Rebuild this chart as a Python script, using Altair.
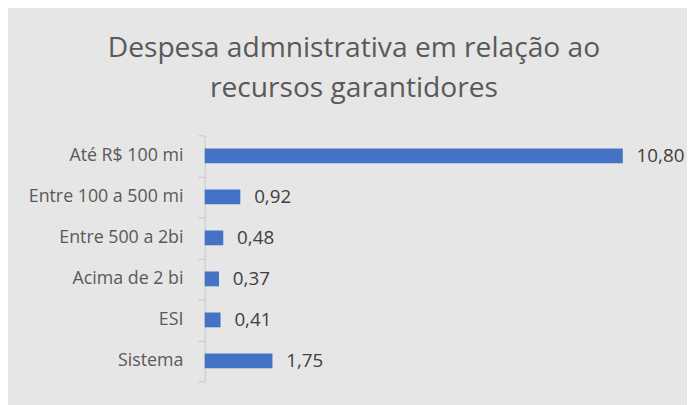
import altair as alt
import pandas as pd

categories = ["Até R$ 100 mi", "Entre 100 a 500 mi", "Entre 500 a 2bi", "Acima de 2 bi", "ESI", "Sistema"]
values = [10.80, 0.92, 0.48, 0.37, 0.41, 1.75]
title_lines = ["Despesa admnistrativa em relação ao", "recursos garantidores"]

df = pd.DataFrame({
    "cat": categories,
    "val": values,
    "lbl": [f"{v:.2f}".replace(".", ",") for v in values],
})

FONT = "Open Sans"
BG = "#e6e6e6"

y = alt.Y("cat:N", sort=categories, title=None,
          scale=alt.Scale(paddingInner=0, paddingOuter=0),
          axis=alt.Axis(labelFont=FONT, labelFontSize=18, labelColor="#595959",
                        domainColor="#c8c8c8", tickColor="#c8c8c8", tickSize=7,
                        tickBand="extent", labelPadding=15, labelLimit=300))
x = alt.X("val:Q", title=None, scale=alt.Scale(domain=[0, 12]), axis=None)

bars = alt.Chart(df).mark_bar(color="#4472c4", size=15).encode(y=y, x=x)
text = alt.Chart(df).mark_text(align="left", baseline="middle", dx=14,
                               font=FONT, fontSize=19, color="#404040").encode(
    y=alt.Y("cat:N", sort=categories), x="val:Q", text="lbl:N")

chart = (bars + text).properties(
    width=470, height=249,
    title=alt.TitleParams(title_lines, font=FONT, fontSize=28.5, fontWeight="normal",
                          color="#595959", lineHeight=41, anchor="middle", dx=-84, offset=24),
    autosize=alt.AutoSizeParams(type="none"),
    padding={"left": 199, "top": 126.5, "right": 18, "bottom": 21.5},
    background=BG,
).configure_view(stroke=None, fill=BG)

chart.save("out.html", embed_options={"renderer": "svg", "actions": False})
